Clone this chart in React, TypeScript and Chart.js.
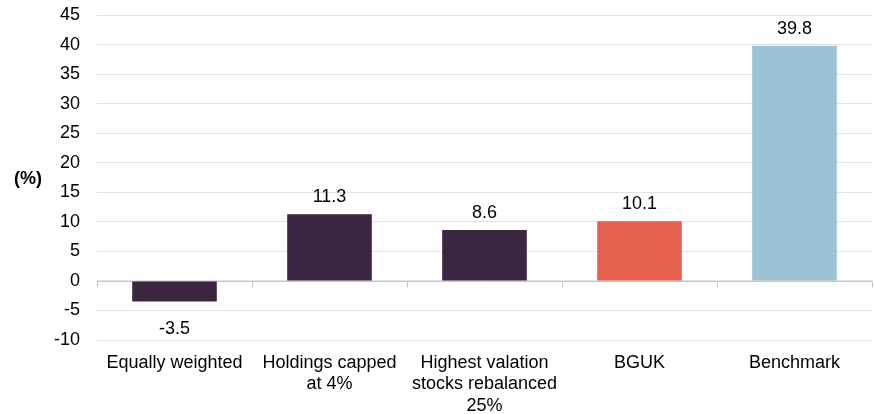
import React, { useEffect, useRef } from "react";
import { Chart, registerables } from "chart.js";

Chart.register(...registerables);

const categories: (string | string[])[] = [
  "Equally weighted",
  ["Holdings capped", "at 4%"],
  ["Highest valation", "stocks rebalanced", "25%"],
  "BGUK",
  "Benchmark",
];
const values: number[] = [-3.5, 11.3, 8.6, 10.1, 39.8];
const barColors: string[] = ["#3c2541", "#3c2541", "#3c2541", "#e86050", "#9dc3d6"];
const yMin = -10;
const yMax = 45;
const yStep = 5;
const yTitle = "(%)";

const FONT = "'Liberation Sans', Arial, sans-serif";

const customPlugin = {
  id: "custom",
  beforeDatasetsDraw(chart: any) {
    const ctx = chart.ctx;
    const y = chart.scales.y;
    const x = chart.scales.x;
    const y0 = Math.round(y.getPixelForValue(0)) + 0.5;
    ctx.save();
    ctx.strokeStyle = "#c4c4c4";
    ctx.lineWidth = 1;
    ctx.beginPath();
    ctx.moveTo(chart.chartArea.left, y0);
    ctx.lineTo(chart.chartArea.right, y0);
    const n = categories.length;
    const step = x.getPixelForValue(1) - x.getPixelForValue(0);
    for (let i = 0; i <= n; i++) {
      const px = i < n ? x.getPixelForValue(i) - step / 2 : x.getPixelForValue(n - 1) + step / 2;
      const xx = Math.round(px) + 0.5;
      ctx.moveTo(xx, y0);
      ctx.lineTo(xx, y0 + 6);
    }
    ctx.stroke();
    ctx.restore();
  },
  afterDatasetsDraw(chart: any) {
    const ctx = chart.ctx;
    const meta = chart.getDatasetMeta(0);
    ctx.save();
    ctx.font = `18px ${FONT}`;
    ctx.fillStyle = "#000";
    ctx.textAlign = "center";
    ctx.textBaseline = "alphabetic";
    meta.data.forEach((bar: any, i: number) => {
      const v = values[i];
      const txt = v.toFixed(1);
      if (v >= 0) {
        ctx.fillText(txt, bar.x, bar.y - 12);
      } else {
        ctx.fillText(txt, bar.x, bar.y + 32);
      }
    });
    const area = chart.chartArea;
    ctx.font = `bold 18px ${FONT}`;
    ctx.textBaseline = "middle";
    ctx.fillText(yTitle, 28, (area.top + area.bottom) / 2 + 2);
    ctx.restore();
  },
};

export default function App() {
  const ref = useRef<HTMLCanvasElement>(null);
  useEffect(() => {
    if (!ref.current) return;
    const chart = new Chart(ref.current, {
      type: "bar",
      data: {
        labels: categories as any,
        datasets: [
          {
            data: values,
            backgroundColor: barColors,
            borderWidth: 0,
            barPercentage: 0.546,
            categoryPercentage: 1,
          },
        ],
      },
      options: {
        animation: false,
        responsive: true,
        maintainAspectRatio: false,
        layout: { padding: { left: 0, right: 2, top: 15, bottom: 0 } },
        plugins: {
          legend: { display: false },
          tooltip: { enabled: false },
        },
        scales: {
          x: {
            grid: { display: false, drawTicks: false },
            border: { display: false },
            ticks: {
              font: { family: FONT, size: 18 },
              color: "#000",
              padding: 12,
              maxRotation: 0,
              autoSkip: false,
            },
            afterFit: (s: any) => {
              s.height = 74;
              s.paddingLeft = 0;
              s.paddingRight = 0;
            },
          },
          y: {
            min: yMin,
            max: yMax,
            grid: { color: "#e3e3e3", drawTicks: false },
            border: { display: false },
            ticks: {
              stepSize: yStep,
              font: { family: FONT, size: 18 },
              color: "#000",
              padding: 17,
            },
            afterFit: (s: any) => {
              s.width = 97;
              s.paddingTop = 0;
              s.paddingBottom = 0;
            },
          },
        },
      },
      plugins: [customPlugin],
    });
    return () => chart.destroy();
  }, []);
  return (
    <div style={{ position: "fixed", left: 0, top: 0, width: 874, height: 414, background: "#fff" }}>
      <canvas ref={ref} />
    </div>
  );
}
